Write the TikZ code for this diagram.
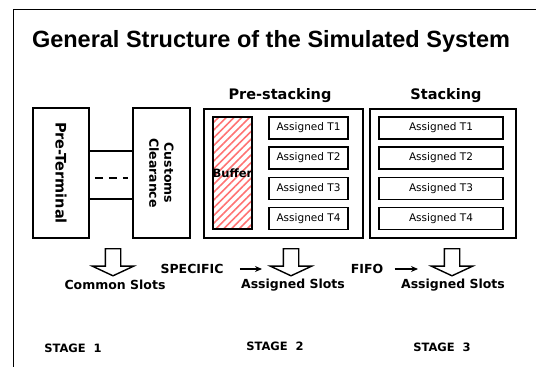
\documentclass[tikz,border=0pt]{standalone}
\usepackage{fontspec}
\setmainfont{DejaVu Sans}
\newfontfamily\titlefont{Liberation Sans}
\usetikzlibrary{arrows.meta, positioning, shapes.arrows, patterns.meta}

\tikzset{
  box/.style={draw, line width=1.7pt, inner sep=0pt},
  slot/.style={draw, line width=1.9pt, minimum height=22pt, inner sep=0pt, font=\fontsize{10.5}{12}\selectfont},
  hollow/.style={single arrow, draw, line width=1.4pt, rotate=-90, inner sep=7pt,
    minimum height=27pt, single arrow head extend=13pt, single arrow tip angle=130},
  lbl/.style={font=\bfseries\fontsize{12.5}{14}\selectfont},
  head/.style={font=\bfseries\fontsize{14.5}{16}\selectfont},
  stage/.style={font=\bfseries\fontsize{11.5}{13}\selectfont},
  flow/.style={-{Stealth[length=7pt,width=6pt]}, line width=1.4pt}
}

\begin{document}
\begin{tikzpicture}[x=1pt, y=-1pt]
\useasboundingbox (0,0) rectangle (536,367);

% frame and title
\draw[line width=0.8pt] (13,367) -- (13,9) -- (536,9);
\node[font=\titlefont\bfseries\fontsize{23.5}{27}\selectfont] (title) at (271,41) {General Structure of the Simulated System};

% stage 1
\node[box, minimum width=56pt, minimum height=130pt] (preterm) at (61,173)
  {\rotatebox{-90}{\bfseries\fontsize{14.5}{16}\selectfont Pre-Terminal}};
\node[box, minimum width=57pt, minimum height=130pt] (customs) at (161.5,173)
  {\rotatebox{-90}{\parbox{90pt}{\centering\bfseries\fontsize{12.5}{15}\selectfont Customs\\Clearance}}};
\draw[line width=1.4pt] ([yshift=22pt]preterm.east) -- ([yshift=22pt]customs.west);
\draw[line width=1.4pt] ([yshift=-26pt]preterm.east) -- ([yshift=-26pt]customs.west);
\draw[line width=1.4pt, dash pattern=on 8pt off 6pt, shorten <=5pt, shorten >=4pt]
  ([yshift=-5pt]preterm.east) -- ([yshift=-5pt]customs.west);

% stage 2
\node[box, minimum width=159pt, minimum height=129pt] (prestack) at (283.5,173.5) {};
\node[head] at (280,96) {Pre-stacking};
\node[box, line width=1.9pt, minimum width=39pt, minimum height=112pt,
  pattern={Lines[angle=45, distance=5.5pt, line width=1.6pt]}, pattern color=red!55] (buffer) at (232.5,173) {};
\node[font=\bfseries\fontsize{11.5}{13}\selectfont] at (buffer) {Buffer};

% stage 3
\node[box, minimum width=146pt, minimum height=129pt] (stack) at (443,173.5) {};
\node[head] at (446,96) {Stacking};

\foreach \i/\y in {1/128,2/158,3/188.5,4/218.5} {
  \node[slot, minimum width=79pt] (pre\i) at (308.5,\y) {Assigned T\i};
  \node[slot, minimum width=124pt] (stk\i) at (441,\y) {Assigned T\i};
}

% slots below
\node[hollow] (arr1) at (113,260.5) {};
\node[hollow] (arr2) at (291,260.5) {};
\node[hollow] (arr3) at (452,260.5) {};
\node[lbl] (common) at (115,285) {Common Slots};
\node[lbl] (slots2) at (293,285) {Assigned Slots};
\node[lbl] (slots3) at (453,285) {Assigned Slots};
\node[lbl] (spec) at (192,269) {SPECIFIC};
\node[lbl] (fifo) at (367,269) {FIFO};
\draw[flow] ([xshift=13pt]spec.east) -- ([xshift=-29pt]spec.east -| arr2);
\draw[flow] ([xshift=8pt]fifo.east) -- ([xshift=-34pt]fifo.east -| arr3);

\node[stage] (st1) at (73,348) {STAGE\ \ 1};
\node[stage] (st2) at (275,346) {STAGE\ \ 2};
\node[stage] (st3) at (442,347) {STAGE\ \ 3};

\end{tikzpicture}
\end{document}
